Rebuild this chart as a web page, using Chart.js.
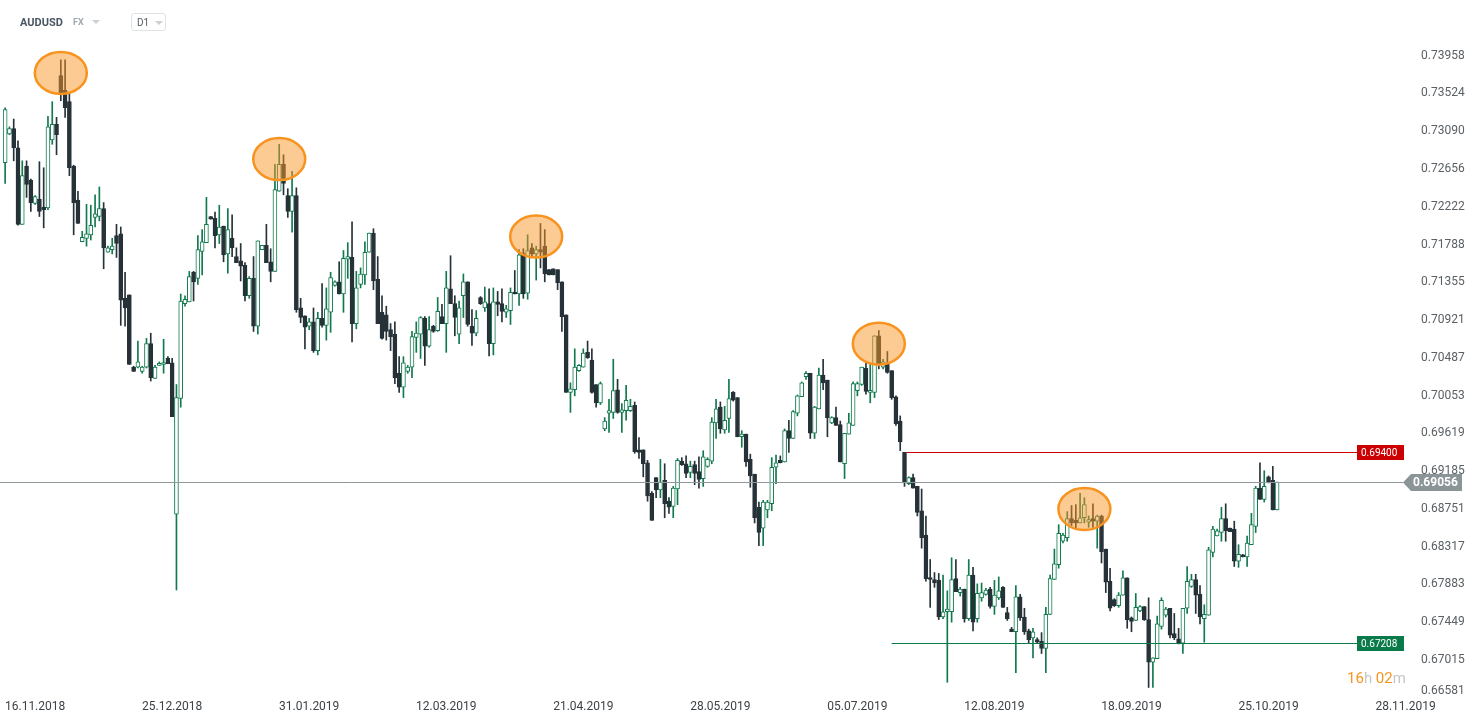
<!DOCTYPE html>
<html>
<head>
<meta charset="utf-8">
<script src="https://cdn.jsdelivr.net/npm/chart.js@4"></script>
<style>
  html, body { margin: 0; padding: 0; background: #fff; }
  #wrap { position: relative; width: 1473px; height: 723px; font-family: Roboto, sans-serif; }
  #chart { position: absolute; left: 0; top: 0; }
  .hdr { position: absolute; white-space: nowrap; }
  #sym { left: 20px; top: 15px; font-size: 11px; font-weight: bold; color: #4a5661; line-height: 15px; }
  #fx { left: 73px; top: 15px; font-size: 9px; font-weight: bold; color: #a3abb0; line-height: 15px; }
  .caret { position: absolute; width: 0; height: 0; border-left: 4px solid transparent; border-right: 4px solid transparent; border-top: 4px solid #cbd0d3; }
  #tf { left: 131px; top: 13px; width: 33px; height: 16px; border: 1px solid #dfe3e6; border-radius: 3px; }
  #tf span { position: absolute; left: 5px; top: 1px; font-size: 10px; color: #555d63; line-height: 15px; }
  #timer { left: 1347px; top: 669px; font-size: 15px; line-height: 18px; color: #c3c7ca; }
  #timer b { font-weight: normal; color: #f7941d; }
</style>
</head>
<body>
<div id="wrap">
  <canvas id="chart" width="1473" height="723"></canvas>
  <div class="hdr" id="sym">AUDUSD</div>
  <div class="hdr" id="fx">FX</div>
  <div class="caret" style="left:92px;top:20px;"></div>
  <div class="hdr" id="tf"><span>D1</span><div class="caret" style="left:23px;top:7px;"></div></div>
  <div class="hdr" id="timer"><b>16</b>h <b>02</b>m</div>
</div>
<script>
"use strict";

/*----------------------------------------*/
/*  data
/*----------------------------------------*/
var open = [
  .7273,.7306,.7312,.7290,.7202,.7269,.7253,.7226,.7231,.7222,
  .7221,.7299,.7317,.7373,.7356,.7343,.7269,.7230,.7182,.7186,
  .7190,.7210,.7211,.7220,.7170,.7173,.7189,.7191,.7117,.7121,
  .7038,.7038,.7033,.7038,.7065,.7025,.7040,.7041,.7048,.7043,
  .6869,.7002,.7111,.7113,.7147,.7140,.7171,.7181,.7211,.7209,
  .7190,.7200,.7168,.7186,.7165,.7160,.7155,.7120,.7140,.7085,
  .7173,.7178,.7159,.7148,.7240,.7271,.7235,.7217,.7235,.7106,
  .7097,.7085,.7090,.7057,.7094,.7086,.7101,.7132,.7136,.7122,
  .7162,.7164,.7088,.7133,.7144,.7170,.7192,.7139,.7101,.7098,
  .7081,.7076,.7031,.7015,.7033,.7038,.7072,.7076,.7094,.7062,
  .7085,.7080,.7096,.7088,.7128,.7111,.7076,.7120,.7136,.7085,
  .7077,.7118,.7106,.7111,.7065,.7113,.7111,.7101,.7103,.7124,
  .7122,.7169,.7123,.7175,.7168,.7173,.7177,.7150,.7151,.7150,
  .7136,.7098,.7009,.7012,.7034,.7038,.7055,.7046,.7018,.6997,
  .6967,.6985,.6986,.7012,.6986,.6988,.6988,.6994,.6943,.6943,
  .6928,.6893,.6911,.6897,.6908,.6884,.6878,.6898,.6930,.6927,
  .6917,.6926,.6918,.6910,.6924,.6930,.6974,.6992,.6966,.6979,
  .7009,.7003,.6958,.6961,.6932,.6915,.6877,.6853,.6874,.6881,
  .6923,.6931,.6929,.6965,.6956,.6985,.7004,.7027,.7031,.6962,
  .6990,.7029,.7023,.6974,.6980,.6972,.6927,.6961,.6971,.7011,
  .7018,.7037,.7009,.7009,.7074,.7038,.7043,.7034,.7004,.6976,
  .6940,.6904,.6911,.6901,.6873,.6845,.6796,.6794,.6793,.6751,
  .6757,.6757,.6795,.6779,.6783,.6749,.6799,.6749,.6773,.6777,
  .6783,.6763,.6773,.6785,.6756,.6737,.6734,.6774,.6751,.6735,
  .6727,.6725,.6723,.6715,.6754,.6794,.6811,.6838,.6842,.6864,
  .6862,.6859,.6865,.6860,.6864,.6861,.6867,.6829,.6792,.6771,
  .6764,.6776,.6796,.6750,.6747,.6758,.6763,.6748,.6699,.6703,
  .6740,.6753,.6761,.6732,.6726,.6721,.6761,.6786,.6794,.6777,
  .6749,.6753,.6825,.6844,.6848,.6864,.6853,.6852,.6815,.6822,
  .6820,.6834,.6855,.6899,.6886,.6912,.6908,.6874
];
var high = [
  .7336,.7314,.7323,.7298,.7275,.7275,.7254,.7235,.7274,.7267,
  .7326,.7343,.7325,.7391,.7391,.7353,.7270,.7240,.7194,.7225,
  .7224,.7236,.7245,.7227,.7177,.7186,.7202,.7199,.7147,.7121,
  .7039,.7068,.7039,.7071,.7077,.7040,.7044,.7070,.7050,.7048,
  .7018,.7122,.7120,.7148,.7148,.7189,.7196,.7233,.7211,.7216,
  .7224,.7200,.7220,.7213,.7175,.7180,.7158,.7142,.7165,.7183,
  .7178,.7202,.7174,.7271,.7294,.7282,.7243,.7263,.7244,.7117,
  .7097,.7094,.7106,.7101,.7134,.7129,.7147,.7137,.7159,.7172,
  .7181,.7205,.7148,.7152,.7182,.7192,.7197,.7165,.7120,.7108,
  .7088,.7090,.7050,.7050,.7040,.7079,.7090,.7096,.7096,.7096,
  .7086,.7118,.7110,.7148,.7166,.7120,.7114,.7145,.7136,.7104,
  .7103,.7119,.7130,.7128,.7129,.7125,.7128,.7109,.7129,.7149,
  .7173,.7174,.7190,.7180,.7177,.7203,.7196,.7150,.7151,.7150,
  .7136,.7098,.7020,.7059,.7041,.7059,.7068,.7059,.7018,.7021,
  .6980,.7001,.7047,.7024,.6996,.7017,.7001,.6998,.6957,.6943,
  .6931,.6895,.6911,.6932,.6927,.6888,.6901,.6933,.6934,.6936,
  .6930,.6930,.6935,.6942,.6934,.6980,.7001,.6998,.6993,.7024,
  .7010,.7003,.6965,.6961,.6938,.6915,.6883,.6885,.6885,.6934,
  .6937,.6936,.6967,.6977,.6988,.7006,.7021,.7033,.7031,.6993,
  .7037,.7047,.7023,.6981,.6992,.6976,.6962,.6985,.7021,.7021,
  .7038,.7043,.7042,.7074,.7080,.7047,.7056,.7034,.7005,.6982,
  .6940,.6912,.6915,.6901,.6898,.6867,.6817,.6802,.6801,.6799,
  .6781,.6819,.6817,.6785,.6783,.6817,.6808,.6789,.6790,.6784,
  .6785,.6793,.6797,.6786,.6762,.6739,.6787,.6777,.6761,.6737,
  .6738,.6727,.6733,.6762,.6799,.6829,.6857,.6847,.6872,.6879,
  .6880,.6893,.6888,.6867,.6881,.6868,.6868,.6829,.6807,.6772,
  .6779,.6804,.6796,.6751,.6778,.6764,.6763,.6773,.6704,.6752,
  .6773,.6762,.6761,.6755,.6738,.6761,.6809,.6800,.6800,.6787,
  .6765,.6831,.6855,.6852,.6877,.6881,.6853,.6861,.6834,.6823,
  .6844,.6870,.6901,.6928,.6919,.6913,.6924,.6906
];
var low = [
  .7249,.7305,.7275,.7201,.7202,.7233,.7217,.7225,.7211,.7198,
  .7219,.7294,.7282,.7344,.7325,.7258,.7190,.7203,.7182,.7177,
  .7184,.7199,.7206,.7151,.7170,.7168,.7164,.7086,.7085,.7041,
  .7033,.7037,.7031,.7037,.7022,.7025,.7040,.7031,.7042,.6981,
  .6782,.6992,.7108,.7113,.7114,.7133,.7144,.7181,.7208,.7175,
  .7180,.7159,.7146,.7165,.7158,.7137,.7114,.7117,.7079,.7076,
  .7173,.7158,.7136,.7148,.7240,.7236,.7210,.7193,.7101,.7089,
  .7059,.7081,.7055,.7052,.7084,.7069,.7078,.7131,.7122,.7101,
  .7140,.7067,.7082,.7129,.7133,.7170,.7127,.7088,.7070,.7069,
  .7057,.7019,.7009,.7003,.7031,.7026,.7055,.7048,.7040,.7061,
  .7078,.7079,.7088,.7055,.7111,.7074,.7065,.7095,.7085,.7063,
  .7074,.7110,.7102,.7051,.7052,.7097,.7090,.7095,.7087,.7122,
  .7109,.7117,.7116,.7164,.7138,.7152,.7136,.7144,.7144,.7127,
  .7079,.7009,.6986,.7005,.7033,.7038,.7048,.7008,.6992,.6995,
  .6965,.6963,.6979,.6985,.6963,.6977,.6987,.6939,.6933,.6912,
  .6884,.6862,.6888,.6888,.6865,.6870,.6865,.6880,.6925,.6911,
  .6911,.6903,.6899,.6901,.6923,.6927,.6956,.6962,.6962,.6963,
  .6999,.6958,.6946,.6924,.6900,.6859,.6833,.6833,.6865,.6873,
  .6904,.6928,.6929,.6940,.6956,.6982,.7004,.7024,.6956,.6956,
  .6990,.7012,.6958,.6973,.6971,.6929,.6910,.6961,.6971,.7005,
  .7017,.7007,.6997,.7003,.7036,.7036,.7031,.7001,.6971,.6942,
  .6901,.6903,.6899,.6867,.6830,.6792,.6762,.6785,.6748,.6749,
  .6676,.6745,.6780,.6775,.6745,.6747,.6735,.6745,.6769,.6776,
  .6761,.6754,.6771,.6762,.6747,.6734,.6687,.6747,.6731,.6721,
  .6704,.6721,.6709,.6687,.6754,.6794,.6807,.6836,.6838,.6856,
  .6852,.6859,.6859,.6854,.6854,.6830,.6813,.6779,.6758,.6763,
  .6762,.6776,.6738,.6734,.6747,.6757,.6747,.6670,.6670,.6703,
  .6737,.6751,.6727,.6725,.6720,.6709,.6755,.6785,.6755,.6743,
  .6722,.6753,.6820,.6844,.6838,.6838,.6849,.6809,.6808,.6820,
  .6809,.6834,.6848,.6886,.6883,.6905,.6874,.6874
];
var close = [
  .7334,.7312,.7290,.7202,.7258,.7248,.7227,.7234,.7217,.7219,
  .7314,.7317,.7305,.7353,.7336,.7267,.7227,.7203,.7187,.7191,
  .7201,.7214,.7220,.7175,.7175,.7177,.7180,.7115,.7106,.7041,
  .7033,.7044,.7038,.7065,.7026,.7038,.7042,.7043,.7042,.6981,
  .7003,.7114,.7116,.7142,.7136,.7173,.7182,.7202,.7208,.7189,
  .7199,.7167,.7196,.7175,.7158,.7154,.7120,.7140,.7085,.7183,
  .7178,.7158,.7148,.7242,.7271,.7249,.7217,.7235,.7104,.7095,
  .7084,.7090,.7057,.7094,.7086,.7105,.7141,.7136,.7122,.7163,
  .7165,.7088,.7129,.7145,.7170,.7192,.7137,.7088,.7071,.7079,
  .7073,.7026,.7015,.7043,.7038,.7073,.7077,.7095,.7062,.7081,
  .7079,.7102,.7088,.7129,.7111,.7095,.7106,.7136,.7087,.7077,
  .7094,.7111,.7113,.7065,.7113,.7110,.7102,.7105,.7124,.7122,
  .7167,.7122,.7172,.7168,.7173,.7170,.7145,.7144,.7144,.7135,
  .7096,.7009,.7013,.7038,.7040,.7054,.7049,.7009,.6997,.7019,
  .6976,.6988,.7011,.6986,.6989,.7000,.6993,.6941,.6940,.6927,
  .6890,.6862,.6897,.6906,.6881,.6877,.6899,.6931,.6926,.6916,
  .6924,.6916,.6909,.6935,.6932,.6975,.6990,.6967,.6977,.7002,
  .7000,.6958,.6961,.6929,.6913,.6865,.6848,.6883,.6883,.6923,
  .6928,.6928,.6965,.6956,.6987,.7005,.7020,.7031,.6962,.6992,
  .7029,.7020,.6980,.6980,.6971,.6929,.6962,.6974,.7019,.7019,
  .7038,.7010,.7011,.7074,.7042,.7044,.7032,.7003,.6973,.6952,
  .6905,.6911,.6899,.6871,.6842,.6795,.6794,.6790,.6751,.6757,
  .6760,.6794,.6780,.6783,.6749,.6799,.6745,.6778,.6779,.6782,
  .6763,.6776,.6781,.6762,.6749,.6734,.6774,.6750,.6734,.6725,
  .6734,.6722,.6715,.6754,.6795,.6812,.6847,.6845,.6864,.6859,
  .6859,.6865,.6880,.6863,.6861,.6867,.6826,.6791,.6761,.6764,
  .6776,.6796,.6748,.6746,.6762,.6763,.6748,.6699,.6704,.6743,
  .6770,.6760,.6730,.6727,.6721,.6761,.6792,.6794,.6776,.6751,
  .6754,.6828,.6852,.6850,.6864,.6850,.6849,.6815,.6823,.6820,
  .6836,.6857,.6899,.6886,.6901,.6906,.6874,.6906
];

// x axis: one slot per session, the chart runs on past the last candle
var slotCount = 329;
var tickSlots = [7, 39, 71, 103, 135, 167, 199, 231, 263, 295, 327];
var tickDates = ['16.11.2018', '25.12.2018', '31.01.2019', '12.03.2019', '21.04.2019',
                 '28.05.2019', '05.07.2019', '12.08.2019', '18.09.2019', '25.10.2019', '28.11.2019'];

// price axis
var yTicks = [0.73958, 0.73524, 0.73090, 0.72656, 0.72222, 0.71788, 0.71355, 0.70921, 0.70487,
              0.70053, 0.69619, 0.69185, 0.68751, 0.68317, 0.67883, 0.67449, 0.67015, 0.66581];
var yMin = 0.66579, yMax = 0.74138;

// marked tops (slot, price)
var circleSlots  = [13, 64, 124, 204, 252];
var circlePrices = [0.7376, 0.7277, 0.7188, 0.7065, 0.6875];

// horizontal levels
var lastPrice = 0.69056;
var levelPrices = [0.69400, 0.67208];
var levelFrom   = [210.5, 207];
var levelColors = ['#cc0000', '#0b7a4b'];

var GREEN = '#10794d';
var DARK = '#263238';

/*----------------------------------------*/
/*  candles as floating bars
/*----------------------------------------*/
var slots = [];
for (var s = 0; s < slotCount; s++) slots.push(s);
var up = close.map(function (c, i) { return c >= open[i]; });

var overlay = {
  id: 'overlay',
  afterDatasetsDraw: function (chart) {
    var ctx = chart.ctx, x = chart.scales.x, y = chart.scales.y, area = chart.chartArea;
    ctx.save();

    // orange circles round the tops
    circleSlots.forEach(function (slot, i) {
      ctx.beginPath();
      ctx.ellipse(x.getPixelForValue(slot), y.getPixelForValue(circlePrices[i]), 26, 21, 0, 0, Math.PI * 2);
      ctx.fillStyle = 'rgba(250,150,40,0.5)';
      ctx.fill();
      ctx.lineWidth = 2.5;
      ctx.strokeStyle = '#f7931e';
      ctx.stroke();
    });

    // support / resistance lines with tags
    ctx.font = '10px Roboto';
    ctx.textBaseline = 'middle';
    levelPrices.forEach(function (p, i) {
      var py = Math.round(y.getPixelForValue(p)) + 0.5;
      var tagL = area.right - 55;
      ctx.beginPath();
      ctx.moveTo(x.getPixelForValue(levelFrom[i]), py);
      ctx.lineTo(tagL, py);
      ctx.lineWidth = 1;
      ctx.strokeStyle = levelColors[i];
      ctx.stroke();
      ctx.fillStyle = levelColors[i];
      ctx.fillRect(tagL, py - 7.5, 47, 15);
      ctx.fillStyle = '#fff';
      ctx.textAlign = 'left';
      ctx.fillText(p.toFixed(5), tagL + 4, py + 0.5);
    });

    // last price line and tag
    var ly = Math.round(y.getPixelForValue(lastPrice)) + 0.5;
    ctx.beginPath();
    ctx.moveTo(0, ly);
    ctx.lineTo(area.right - 9, ly);
    ctx.strokeStyle = '#8f999c';
    ctx.lineWidth = 1;
    ctx.stroke();
    ctx.beginPath();
    ctx.moveTo(area.right - 9, ly);
    ctx.lineTo(area.right - 1, ly - 8.5);
    ctx.lineTo(area.right + 50, ly - 8.5);
    ctx.lineTo(area.right + 50, ly + 8.5);
    ctx.lineTo(area.right - 1, ly + 8.5);
    ctx.closePath();
    ctx.fillStyle = '#8b9598';
    ctx.fill();
    ctx.fillStyle = '#fff';
    ctx.font = 'bold 12px Roboto';
    ctx.fillText(lastPrice.toFixed(5), area.right + 1, ly + 0.5);
    ctx.restore();
  }
};

var ctx = document.getElementById('chart');
var candleChart = new Chart(ctx, {
  type: 'bar',
  data: {
    labels: slots,
    datasets: [{
      label: 'body',
      data: open.map(function (o, i) { return [o, close[i]]; }),
      backgroundColor: up.map(function (u) { return u ? '#ffffff' : DARK; }),
      borderColor: up.map(function (u) { return u ? GREEN : DARK; }),
      borderWidth: 1,
      borderSkipped: false,
      barThickness: 4,
      minBarLength: 2,
      grouped: false,
      order: 0
    }, {
      label: 'wick',
      data: low.map(function (l, i) { return [l, high[i]]; }),
      backgroundColor: up.map(function (u) { return u ? GREEN : DARK; }),
      borderWidth: 0,
      barThickness: 1,
      grouped: false,
      order: 1
    }]
  },
  options: {
    responsive: false,
    animation: false,
    events: [],
    layout: { padding: { top: 40, left: 3, right: 0, bottom: 0 } },
    plugins: { legend: { display: false }, tooltip: { enabled: false } },
    scales: {
      x: {
        offset: true,
        grid: { display: false },
        border: { display: false },
        ticks: {
          autoSkip: false, maxRotation: 0, padding: -6,
          color: '#3d4247', font: { family: 'Roboto', size: 12 },
          callback: function (v, i) { return tickDates[i]; }
        },
        afterBuildTicks: function (scale) {
          scale.ticks = tickSlots.map(function (v) { return { value: v }; });
        },
        afterFit: function (scale) { scale.height = 25; }
      },
      y: {
        position: 'right',
        min: yMin, max: yMax,
        grid: { display: false },
        border: { display: false },
        ticks: {
          padding: 1,
          color: '#5a6065', font: { family: 'Roboto', size: 12 },
          callback: function (v) {
            // bottom label sits just above the date row
            return v === yTicks[yTicks.length - 1] ? [v.toFixed(5), ''] : v.toFixed(5);
          }
        },
        afterBuildTicks: function (scale) {
          scale.ticks = yTicks.map(function (v) { return { value: v }; });
        },
        afterFit: function (scale) { scale.width = 61; }
      }
    }
  },
  plugins: [overlay]
});
</script>
</body>
</html>
